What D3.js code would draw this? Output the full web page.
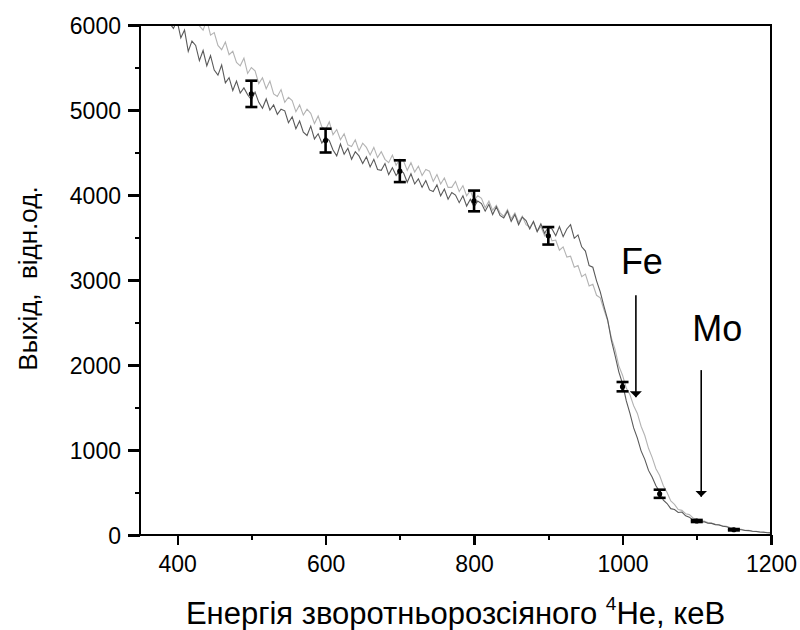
<!DOCTYPE html>
<html><head><meta charset="utf-8">
<script src="https://cdn.jsdelivr.net/npm/d3@7"></script>
<style>
html,body{margin:0;padding:0;background:#fff;}
svg{display:block;font-family:"Liberation Sans",Arial,sans-serif;}
</style></head>
<body><svg id="chart" width="800" height="630"></svg>
<script>
// ---- data ----
const energyStart = 350, energyStep = 5;
const darkSpectrum = [
6540,6390,6460,6330,6240,6310,6150,6180,6020,5960,
6050,5850,5940,5690,5810,5760,5580,5700,5520,5640,
5470,5410,5530,5320,5380,5230,5340,5200,5260,5180,
5120,5210,5090,5020,5130,5000,5060,4950,5010,4990,
4850,4920,4780,4870,4740,4700,4810,4660,4720,4610,
4680,4640,4530,4460,4600,4480,4550,4420,4510,4460,
4370,4450,4330,4420,4300,4290,4370,4240,4320,4230,
4290,4260,4150,4250,4130,4190,4090,4170,4060,4040,
4120,3990,4070,3950,4030,4000,3910,3990,3870,3950,
3860,3930,3900,3810,3890,3770,3860,3760,3730,3810,
3690,3770,3650,3740,3700,3600,3690,3570,3660,3550,
3620,3600,3520,3630,3510,3600,3650,3490,3530,3390,
3340,3170,3150,2990,2860,2690,2530,2290,2110,1920,
1780,1580,1430,1260,1140,990,890,760,680,580,
510,410,370,310,300,265,270,225,210,175,
170,152,155,138,137,122,118,102,97,83,
77,66,62,53,52,44,41,35,33,27,
25];
const lightSpectrum = [
6840,6690,6730,6540,6500,6530,6350,6410,6260,6200,
6270,6110,6190,6160,6010,6110,5990,5940,6060,5880,
5910,5760,5710,5800,5650,5690,5560,5520,5610,5430,
5500,5460,5310,5380,5250,5340,5190,5160,5240,5090,
5150,5110,4980,5060,4940,5010,4960,4840,4930,4800,
4770,4860,4710,4770,4650,4720,4590,4570,4650,4520,
4610,4560,4470,4560,4440,4510,4420,4380,4470,4350,
4420,4400,4290,4380,4270,4340,4230,4300,4280,4160,
4240,4130,4200,4090,4090,4160,4040,4110,3990,4050,
3940,3990,3960,3850,3930,3820,3880,3790,3750,3830,
3720,3790,3680,3750,3650,3620,3680,3570,3630,3520,
3590,3460,3470,3350,3390,3270,3280,3150,3170,3040,
3070,2930,2950,2820,2790,2650,2520,2320,2180,1990,
1880,1730,1650,1520,1430,1280,1170,1020,910,780,
700,580,500,400,360,300,290,250,240,200,
185,165,163,146,142,127,122,107,102,88,
82,70,67,56,54,45,43,36,34,29,
27];
const errEnergy = [500, 600, 700, 800, 900, 1000, 1050, 1100, 1150];
const errValue  = [5190, 4640, 4280, 3930, 3520, 1745, 485, 165, 62];
const errDelta  = [155, 140, 128, 122, 103, 55, 48, 12, 8];
const xTicksMajor = [400, 600, 800, 1000, 1200];
const xTicksMinor = [500, 700, 900, 1100];
const yTicksMajor = [0, 1000, 2000, 3000, 4000, 5000, 6000];
const yTicksMinor = [500, 1500, 2500, 3500, 4500, 5500];
const arrowLabels = ["Fe", "Mo"];
const arrowEnergy = [1018, 1106];
const arrowFrom   = [2820, 1940];
const arrowTo     = [1620, 450];
const xTitle = "Енергія зворотньорозсіяного ";
const xTitleSup = "4";
const xTitleEnd = "He, кеВ";
const yTitle = "Выхід,\u00A0 відн.од.";

// ---- layout ----
const svg = d3.select("#chart");
const L = 140, R = 771, T = 25, B = 535;
const x = d3.scaleLinear().domain([350, 1200]).range([L, R]);
const y = d3.scaleLinear().domain([0, 6000]).range([B, T]);
const FONT = "'Liberation Sans',Arial,sans-serif";

const defs = svg.append("defs");
defs.append("clipPath").attr("id","plotclip")
  .append("rect").attr("x",L).attr("y",T).attr("width",R-L).attr("height",B-T);
defs.append("marker").attr("id","ah").attr("viewBox","0 0 10 20")
  .attr("refX",10).attr("refY",10).attr("markerWidth",6).attr("markerHeight",12)
  .attr("orient","auto").attr("markerUnits","userSpaceOnUse")
  .append("path").attr("d","M0,0 L10,10 L0,20 Z").attr("fill","#000");

const toPts = arr => arr.map((v,i)=>[energyStart + i*energyStep, v]);
const line = d3.line().x(d=>x(d[0])).y(d=>y(d[1]));
const g = svg.append("g").attr("clip-path","url(#plotclip)");
g.append("path").datum(toPts(lightSpectrum)).attr("d",line)
  .attr("fill","none").attr("stroke","#b3b3b3").attr("stroke-width",1.1);
g.append("path").datum(toPts(darkSpectrum)).attr("d",line)
  .attr("fill","none").attr("stroke","#5a5a5a").attr("stroke-width",1.1);

// error bars
const eb = svg.append("g").attr("stroke","#000").attr("stroke-width",2.6);
errEnergy.forEach((e,i)=>{
  const cx = x(e), y1 = y(errValue[i]+errDelta[i]), y2 = y(errValue[i]-errDelta[i]);
  eb.append("line").attr("x1",cx).attr("x2",cx).attr("y1",y1).attr("y2",y2);
  eb.append("line").attr("x1",cx-6).attr("x2",cx+6).attr("y1",y1).attr("y2",y1);
  eb.append("line").attr("x1",cx-6).attr("x2",cx+6).attr("y1",y2).attr("y2",y2);
  svg.append("circle").attr("cx",cx).attr("cy",y(errValue[i])).attr("r",2.6).attr("fill","#000");
});

// frame
svg.append("rect").attr("x",L).attr("y",T).attr("width",R-L).attr("height",B-T)
  .attr("fill","none").attr("stroke","#000").attr("stroke-width",2.5)
  .attr("shape-rendering","crispEdges");

// axes
const fmt = d3.format("d");
const xAxis = svg.append("g").attr("transform",`translate(0,${B})`)
  .call(d3.axisBottom(x).tickValues(xTicksMajor).tickSize(10).tickSizeOuter(0).tickPadding(5).tickFormat(fmt));
const xMinor = svg.append("g").attr("transform",`translate(0,${B})`)
  .call(d3.axisBottom(x).tickValues(xTicksMinor).tickSize(5).tickSizeOuter(0).tickFormat(""));
const yAxis = svg.append("g").attr("transform",`translate(${L},0)`)
  .call(d3.axisLeft(y).tickValues(yTicksMajor).tickSize(12).tickSizeOuter(0).tickPadding(7).tickFormat(fmt));
const yMinor = svg.append("g").attr("transform",`translate(${L},0)`)
  .call(d3.axisLeft(y).tickValues(yTicksMinor).tickSize(5).tickSizeOuter(0).tickFormat(""));
[xAxis,xMinor,yAxis,yMinor].forEach(a=>{
  a.attr("font-size",23).attr("font-family",FONT);
  a.select(".domain").remove();
  a.selectAll("line").attr("stroke","#000").attr("stroke-width",2.2).attr("shape-rendering","crispEdges");
  a.selectAll("text").style("font-size","23px").style("font-family",FONT).attr("fill","#000");
});
xAxis.selectAll("text").attr("dy",null).attr("y",37);
yAxis.selectAll("text").attr("dy","0.35em");

// arrows + labels
arrowLabels.forEach((lab,i)=>{
  const ax = x(arrowEnergy[i]);
  svg.append("line").attr("x1",ax).attr("x2",ax)
    .attr("y1",y(arrowFrom[i])).attr("y2",y(arrowTo[i]))
    .attr("stroke","#000").attr("stroke-width",1.6).attr("marker-end","url(#ah)");
  svg.append("text").attr("x", ax + (i===0 ? 6 : 16)).attr("y", y(arrowFrom[i]) - (i===0 ? 21 : 29))
    .attr("text-anchor","middle").attr("font-size",36).attr("font-family",FONT).attr("fill","#000").text(lab);
});

// titles
const xt = svg.append("text").attr("x",(L+R)/2).attr("y",624).attr("text-anchor","middle")
  .attr("font-size",31).attr("font-family",FONT).attr("fill","#000");
xt.append("tspan").text(xTitle);
xt.append("tspan").attr("font-size",19).attr("dy",-14).text(xTitleSup);
xt.append("tspan").attr("dy",14).text(xTitleEnd);

svg.append("text").attr("transform",`translate(36.5,278.5) rotate(-90)`)
  .attr("text-anchor","middle").attr("font-size",26).attr("font-family",FONT).attr("fill","#000").text(yTitle);
</script></body></html>
